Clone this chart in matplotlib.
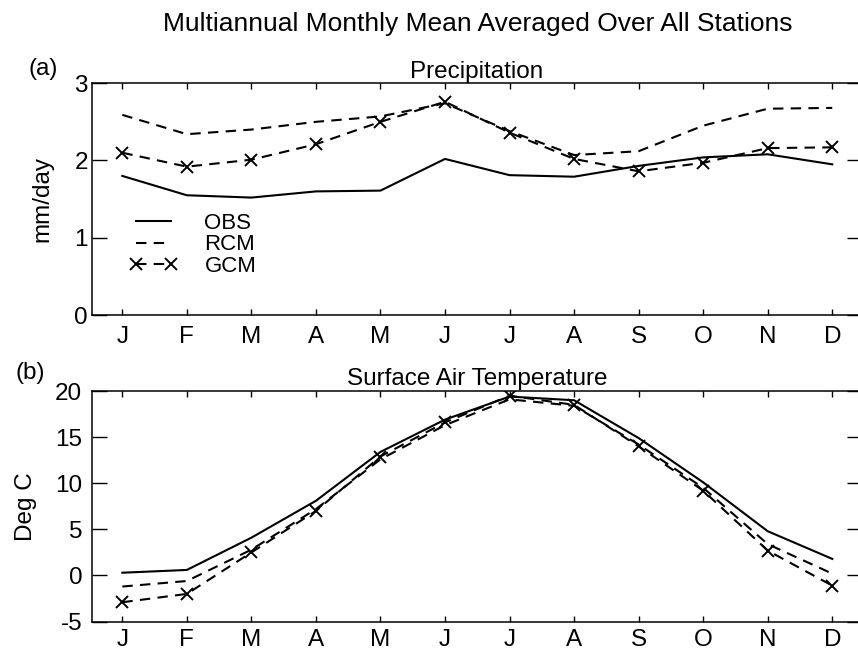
import matplotlib
matplotlib.use('Agg')
import matplotlib.pyplot as plt
import numpy as np

plt.rcParams['font.family'] = ['Liberation Sans', 'DejaVu Sans']
plt.rcParams['axes.unicode_minus'] = False

months = ['J', 'F', 'M', 'A', 'M', 'J', 'J', 'A', 'S', 'O', 'N', 'D']

# precipitation (mm/day)
pr_obs = [1.80, 1.55, 1.52, 1.60, 1.61, 2.02, 1.81, 1.79, 1.93, 2.04, 2.08, 1.95]
pr_rcm = [2.59, 2.34, 2.40, 2.50, 2.57, 2.74, 2.38, 2.07, 2.12, 2.45, 2.67, 2.68]
pr_gcm = [2.10, 1.92, 2.01, 2.21, 2.50, 2.76, 2.36, 2.02, 1.86, 1.97, 2.16, 2.17]

# surface air temperature (deg C)
t_obs = [0.3, 0.6, 4.1, 8.1, 13.4, 16.9, 19.4, 19.0, 14.9, 10.1, 4.8, 1.8]
t_rcm = [-1.2, -0.6, 2.8, 7.2, 12.6, 16.3, 19.1, 18.4, 14.2, 9.5, 3.4, 0.2]
t_gcm = [-2.9, -2.0, 2.5, 7.0, 12.9, 16.6, 19.5, 18.5, 14.0, 9.2, 2.7, -1.1]

x = np.arange(1, 13)

fig = plt.figure(figsize=(8.58, 6.55), dpi=100)
ax1 = fig.add_axes([0.1072, 0.519, 0.8974, 0.354])
ax2 = fig.add_axes([0.1072, 0.051, 0.8974, 0.352])

lw = 1.5
dash = (0, (5, 3.5))
mk = dict(marker='x', markersize=8.5, markeredgewidth=1.4)


def style(ax, title, ypad, xpad):
    ax.set_xlim(0.53, 12.46)
    ax.set_xticks(x)
    ax.set_xticklabels(months)
    ax.tick_params(axis='x', direction='in', length=4, width=1, top=True,
                   labelsize=17.5, pad=xpad)
    ax.tick_params(axis='y', direction='in', length=11, width=1, right=True,
                   labelsize=17.5, pad=ypad)
    for s in ax.spines.values():
        s.set_linewidth(1.1)
    ax.set_title(title, fontsize=17.5, pad=4)


# (a) precipitation
ax1.plot(x, pr_obs, color='k', lw=lw, label='OBS')
ax1.plot(x, pr_rcm, color='k', lw=lw, linestyle=dash, label='RCM')
ax1.plot(x, pr_gcm, color='k', lw=lw, linestyle=dash, label='GCM', **mk)
ax1.set_ylim(0, 3)
ax1.set_yticks([0, 1, 2, 3])
style(ax1, 'Precipitation', 3, 8)
ax1.set_ylabel('mm/day', fontsize=17.5)
ax1.yaxis.set_label_coords(-0.05, 0.5)
ax1.legend(loc='upper left', bbox_to_anchor=(0.048, 0.44), frameon=False,
           fontsize=16, numpoints=2, handlelength=2.2, handletextpad=1.2,
           labelspacing=0.02, borderpad=0, borderaxespad=0)

# (b) temperature
ax2.plot(x, t_obs, color='k', lw=lw)
ax2.plot(x, t_rcm, color='k', lw=lw, linestyle=dash)
ax2.plot(x, t_gcm, color='k', lw=lw, linestyle=dash, **mk)
ax2.set_ylim(-5, 20)
ax2.set_yticks([-5, 0, 5, 10, 15, 20])
style(ax2, 'Surface Air Temperature', 7, 5)
ax2.set_ylabel('Deg C', fontsize=17.5)
ax2.yaxis.set_label_coords(-0.072, 0.5)

fig.text(0.5565, 0.963, 'Multiannual Monthly Mean Averaged Over All Stations',
         ha='center', va='center', fontsize=19)
fig.text(0.033, 0.895, '(a)', ha='left', va='center', fontsize=17.5)
fig.text(0.018, 0.43, '(b)', ha='left', va='center', fontsize=17.5)

fig.savefig('out.png', dpi=100)
